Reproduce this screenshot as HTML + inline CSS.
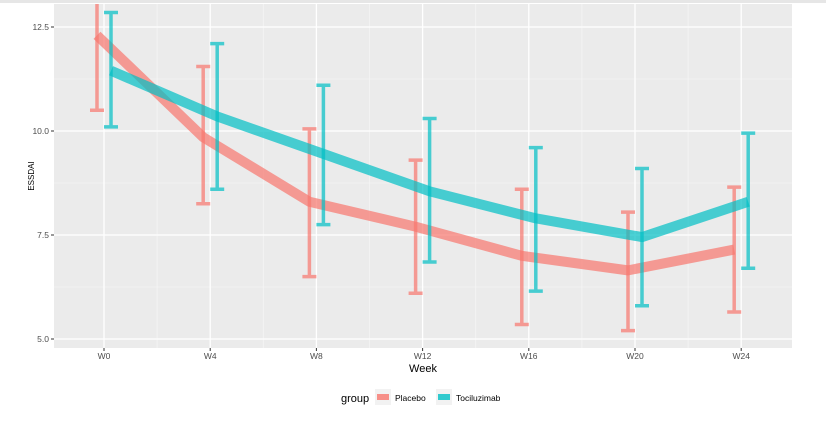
<!DOCTYPE html>
<html><head><meta charset="utf-8"><style>
body{margin:0;background:#fff;}
svg{display:block;font-family:"Liberation Sans",sans-serif;}
</style></head><body>
<svg id="chart" width="826" height="425">
<rect x="0" y="0" width="826" height="3" fill="#e6e6e6"/>
<g id="panel"></g>
</svg>
<script>
const weeks=["W0","W4","W8","W12","W16","W20","W24"];
const placeboMean=[12.3,9.85,8.3,7.7,7.0,6.65,7.15];
const placeboLow=[10.5,8.25,6.5,6.1,5.35,5.2,5.65];
const placeboHigh=[14.1,11.55,10.05,9.3,8.6,8.05,8.65];
const tociMean=[11.45,10.35,9.45,8.55,7.9,7.45,8.3];
const tociLow=[10.1,8.6,7.75,6.85,6.15,5.8,6.7];
const tociHigh=[12.85,12.1,11.1,10.3,9.6,9.1,9.95];
const yTicks=[5.0,7.5,10.0,12.5];
const yTickLabels=["5.0","7.5","10.0","12.5"];

const NS="http://www.w3.org/2000/svg";
const PL=54,PR=792,PT=4,PB=348;
const xs=i=>104+i*106.2;
const ys=v=>339-(v-5)*41.6;
const g=document.getElementById('panel');
function mk(t,a,p){const e=document.createElementNS(NS,t);for(const k in a)e.setAttribute(k,a[k]);(p||g).appendChild(e);return e;}
const bg=mk('rect',{x:PL,y:PT,width:PR-PL,height:PB-PT,fill:'#ebebeb'});


// minor grid
for(let i=0;i<yTicks.length+1;i++){const v=3.75+i*2.5;const y=ys(v);if(y>PT&&y<PB){const l=mk('line',{x1:PL,x2:PR,y1:y,y2:y,stroke:'#f5f5f5','stroke-width':0.7});}}
for(let i=0;i<weeks.length-1;i++){const x=(xs(i)+xs(i+1))/2;const l=mk('line',{x1:x,x2:x,y1:PT,y2:PB,stroke:'#f5f5f5','stroke-width':0.7});}
yTicks.forEach((v,i)=>{const y=ys(v);
const l=mk('line',{x1:PL,x2:PR,y1:y,y2:y,stroke:'#fff','stroke-width':1.3});
const tk=mk('line',{x1:PL-3,x2:PL,y1:y,y2:y,stroke:'#333','stroke-width':1});
const t=mk('text',{x:PL-5,y:y+3,'text-anchor':'end','font-size':8.5,fill:'#4d4d4d'});t.textContent=yTickLabels[i];});
weeks.forEach((w,i)=>{const x=xs(i);
const l=mk('line',{x1:x,x2:x,y1:PT,y2:PB,stroke:'#fff','stroke-width':1.3});
const tk=mk('line',{x1:x,x2:x,y1:PB,y2:PB+3,stroke:'#333','stroke-width':1});
const t=mk('text',{x:x,y:PB+11,'text-anchor':'middle','font-size':8.5,fill:'#4d4d4d'});t.textContent=w;});
const clip=mk('clipPath',{id:'pc'});mk('rect',{x:PL,y:PT,width:PR-PL,height:PB-PT},clip);
const data=g.appendChild(document.createElementNS(NS,'g'));data.setAttribute('clip-path','url(#pc)');
function series(mean,lo,hi,col,dx,name){
  const pts=mean.map((v,i)=>(xs(i)+dx)+','+ys(v)).join(' ');
  const pl=mk('polyline',{points:pts,fill:'none',stroke:col,'stroke-width':10,'stroke-opacity':0.7,'stroke-linejoin':'round'},data);
  
  mean.forEach((v,i)=>{const x=xs(i)+dx;
    const e=mk('path',{d:`M${x-7},${ys(hi[i])}H${x+7}M${x},${ys(hi[i])}V${ys(lo[i])}M${x-7},${ys(lo[i])}H${x+7}`,fill:'none',stroke:col,'stroke-width':3.5,'stroke-opacity':0.7},data);
    });
}
series(placeboMean,placeboLow,placeboHigh,'#F8766D',-7,'placebo');
series(tociMean,tociLow,tociHigh,'#00BFC4',7,'tocilizumab');
let t=mk('text',{x:(PL+PR)/2,y:372,'text-anchor':'middle','font-size':11,fill:'#000'});t.textContent='Week';
t=mk('text',{x:0,y:0,transform:'translate(34,176) rotate(-90)','text-anchor':'middle','font-size':8,fill:'#000'});t.textContent='ESSDAI';
t=mk('text',{x:341,y:402,'font-size':11,fill:'#000'});t.textContent='group';
[['Placebo','#F8766D',375],['Tociluzimab','#00BFC4',436]].forEach(([n,c,x])=>{
  const k=mk('rect',{x:x,y:389,width:16,height:16,fill:'#f2f2f2'});
  const s=mk('rect',{x:x+2,y:394,width:12,height:6,fill:c,'fill-opacity':0.8});
  const tt=mk('text',{x:x+20,y:401,'font-size':8.5,fill:'#000'});tt.textContent=n;});
</script>
</body></html>
